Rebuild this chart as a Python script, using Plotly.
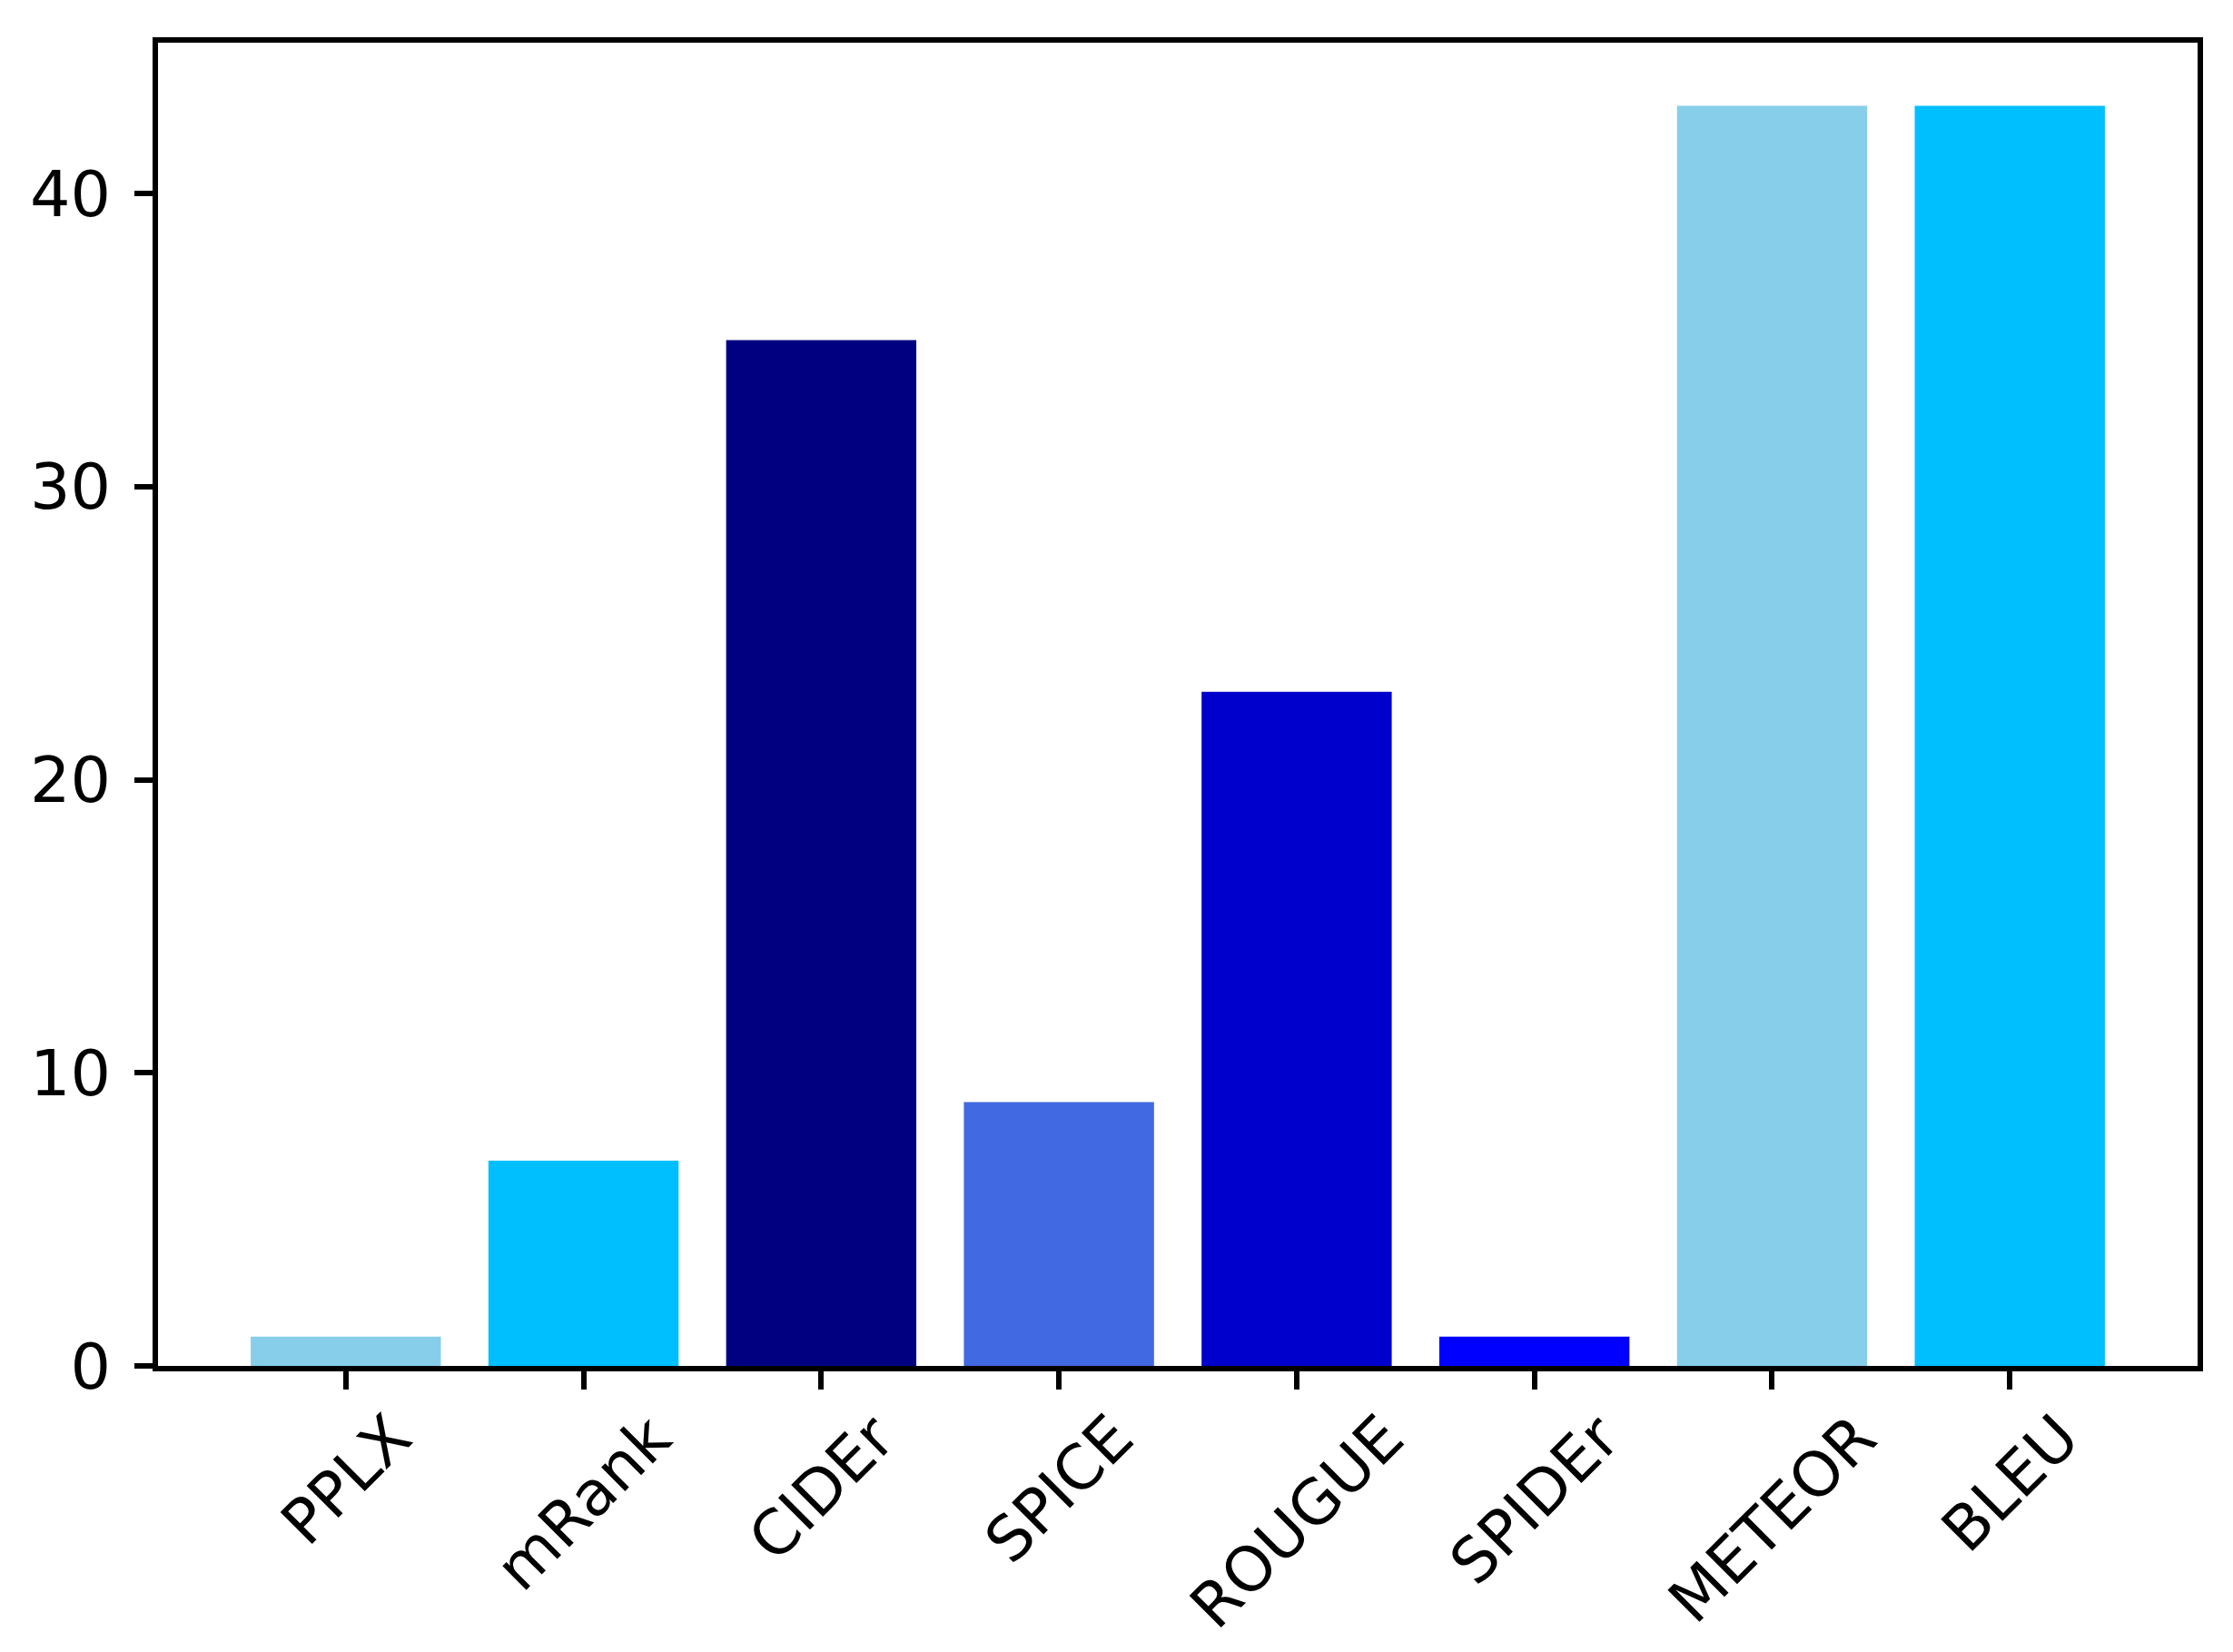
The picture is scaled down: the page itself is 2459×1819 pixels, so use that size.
import plotly.graph_objects as go

categories = ["PPLX", "mRank", "CIDEr", "SPICE", "ROUGUE", "SPIDEr", "METEOR", "BLEU"]
values = [1, 7, 35, 9, 23, 1, 43, 43]
colors = ["#87CEEB", "#00BFFF", "#000080", "#4169E1", "#0000CD", "#0000FF", "#87CEEB", "#00BFFF"]
y_ticks = [0, 10, 20, 30, 40]

FONT = "DejaVu Sans"
FS_Y = 70
FS_X = 68

fig = go.Figure()
fig.add_trace(go.Bar(x=categories, y=values, marker=dict(color=colors, line=dict(width=0)),
                     width=0.8, showlegend=False))

for c in categories:
    fig.add_annotation(x=c, y=0, xref="x", yref="paper", text=c, textangle=-45,
                       showarrow=False, xanchor="center", yanchor="top", yshift=-36,
                       font=dict(family=FONT, size=FS_X, color="black"))

fig.update_layout(
    width=2459, height=1819,
    margin=dict(l=166, r=47, t=39, b=323, pad=0),
    paper_bgcolor="white", plot_bgcolor="white",
    font=dict(family=FONT, size=FS_Y, color="black"),
)
fig.update_xaxes(type="category", range=[-0.79, 7.79], showline=True, linecolor="black", linewidth=6,
                 mirror=True, ticks="outside", ticklen=20, tickwidth=6, tickcolor="black",
                 showticklabels=False, showgrid=False, zeroline=False)
fig.update_yaxes(range=[0, 45.15], tickvals=y_ticks, showline=True, linecolor="black", linewidth=6,
                 mirror=True, ticks="outside", ticklen=20, tickwidth=6, tickcolor="black",
                 ticklabelstandoff=12, showgrid=False, zeroline=False,
                 tickfont=dict(family=FONT, size=FS_Y, color="black"))

fig.write_html("out.html")
